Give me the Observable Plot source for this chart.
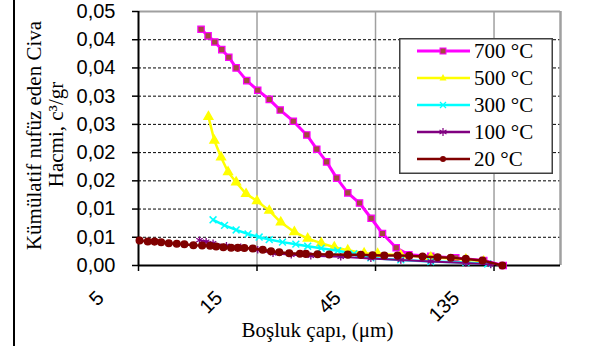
<!DOCTYPE html>
<html>
<head>
<meta charset="utf-8">
<script src="https://cdn.jsdelivr.net/npm/d3@7"></script>
<script src="https://cdn.jsdelivr.net/npm/@observablehq/plot@0.6"></script>
<style>
  html, body { margin: 0; padding: 0; background: #fff; }
  #wrap { position: relative; width: 590px; height: 351px; overflow: hidden; }
  #border { position: absolute; left: 13px; top: 0; width: 2px; height: 346px; background: #000; }
  #legend { position: absolute; left: 399px; top: 38px; }
</style>
</head>
<body>
<div id="wrap">
  <div id="chart"></div>
  <div id="border"></div>
  <div id="legend"></div>
</div>
<script>
// ---- data ----
const seriesNames = ["700 °C", "500 °C", "300 °C", "100 °C", "20 °C"];
const seriesColors = ["#ff00ff", "#ffff00", "#00ffff", "#800080", "#800000"];

const x700 = [8.93, 9.53, 10.14, 10.82, 11.55, 12.36, 13.64, 15.1, 16.8, 18.6, 21.0, 23.8, 26.1, 28.6, 31.4, 34.8, 38.8, 43.2, 48.0, 54.5, 61.3, 75.1, 94.7, 122.7, 147];
const y700 = [0.0465, 0.0452, 0.0440, 0.0425, 0.0410, 0.0389, 0.0364, 0.0345, 0.0327, 0.0306, 0.0284, 0.0257, 0.0229, 0.0204, 0.0172, 0.0143, 0.0123, 0.0093, 0.0063, 0.0035, 0.0021, 0.0018, 0.0015, 0.0010, 0.0000];

const x500 = [9.56, 10.1, 10.75, 11.47, 12.36, 13.55, 15.0, 16.8, 18.7, 21.2, 24.0, 27.2, 30.7, 34.8, 40.5, 45.9, 56.9, 75.1, 104, 122.7];
const y500 = [0.0293, 0.0246, 0.0213, 0.0184, 0.0164, 0.0141, 0.0127, 0.0108, 0.0085, 0.0066, 0.0053, 0.0044, 0.0036, 0.0030, 0.0024, 0.0023, 0.0020, 0.0016, 0.0012, 0.0008];

const x300 = [9.98, 11.1, 12.36, 13.8, 15.3, 16.8, 19.0, 21.5, 24.0, 27.2, 31.7, 36.8, 43.1, 56.9, 75.1, 104, 127.3];
const y300 = [0.0090, 0.0079, 0.0070, 0.0062, 0.0056, 0.0051, 0.0046, 0.0042, 0.0038, 0.0034, 0.0029, 0.0023, 0.0015, 0.0011, 0.0008, 0.0006, 0.0003];

const x100 = [8.8, 9.36, 9.98, 11.3, 12.9, 15.1, 17.4, 20.6, 24.7, 32.6, 43.1, 56.9, 75.1, 104, 131];
const y100 = [0.0050, 0.0047, 0.0044, 0.0039, 0.0036, 0.0031, 0.0024, 0.0021, 0.0019, 0.0017, 0.0014, 0.0011, 0.0008, 0.0005, 0.0002];

const x20 = [5.05, 5.45, 5.80, 6.17, 6.62, 7.13, 7.65, 8.32, 9.02, 9.71, 10.27, 10.98, 11.8, 12.55, 13.34, 14.42, 15.82, 17.08, 18.44, 20.23, 22.34, 23.6, 26.3, 29.3, 34.8, 39.3, 43.8, 48.8, 55.2, 61.5, 69.6, 80.0, 90.4, 103.9, 121.3, 145.9];
const y20 = [0.00492, 0.00472, 0.00470, 0.00459, 0.00439, 0.00427, 0.00419, 0.00400, 0.00394, 0.00388, 0.00374, 0.00360, 0.00350, 0.00347, 0.00344, 0.00335, 0.00309, 0.00281, 0.00262, 0.00242, 0.00232, 0.00228, 0.00222, 0.00218, 0.00214, 0.00210, 0.00203, 0.00197, 0.00195, 0.00190, 0.00177, 0.00163, 0.00152, 0.00130, 0.00098, 0.0000];

const xTicks = [5, 15, 45, 135];
const xTickLabels = ["5", "15", "45", "135"];
const yTickValues = [0, 0.005556, 0.011111, 0.016667, 0.022222, 0.027778, 0.033333, 0.038889, 0.044444, 0.05];
const yTickLabels = ["0,00", "0,01", "0,01", "0,02", "0,02", "0,03", "0,03", "0,04", "0,04", "0,05"];

const xTitle = "Boşluk çapı, (μm)";
const yTitle1 = "Kümülatif nufüz eden Civa";
const yTitle2 = "Hacmi, c³/gr";

// ---- build ----
const toRows = (xs, ys) => xs.map((x, i) => ({x, y: ys[i]}));
const d700 = toRows(x700, y700), d500 = toRows(x500, y500), d300 = toRows(x300, y300),
      d100 = toRows(x100, y100), d20 = toRows(x20, y20);

const serif = "'Liberation Serif', 'Times New Roman', serif";
const sans = "'Liberation Sans', Arial, sans-serif";

const chart = Plot.plot({
  width: 590,
  height: 351,
  marginLeft: 138,
  marginRight: 30,
  marginTop: 11,
  marginBottom: 86,
  style: {background: "transparent", fontFamily: sans, fontSize: "20px", color: "#000"},
  x: {type: "log", base: 3, domain: [5, 250]},
  y: {domain: [0, 0.05]},
  marks: [
    Plot.gridX(xTicks.slice(1), {stroke: "#a0a0a0", strokeOpacity: 1, strokeWidth: 1.5}),
    Plot.gridY(yTickValues.slice(1, -1), {stroke: "#000", strokeOpacity: 1, strokeWidth: 1, strokeDasharray: "3,2"}),
    Plot.ruleY([0.05], {stroke: "#a0a0a0", strokeWidth: 2}),
    Plot.ruleX([250], {stroke: "#a0a0a0", strokeWidth: 2.5}),
    Plot.ruleX([5], {stroke: "#000", strokeWidth: 2}),
    Plot.ruleY([0], {stroke: "#000", strokeWidth: 2}),
    Plot.axisY(yTickValues, {
      tickSize: 6, tickPadding: 17, strokeWidth: 1.5, label: null, fontSize: 20,
      tickFormat: d => yTickLabels[yTickValues.indexOf(d)]
    }),
    Plot.axisX(xTicks, {tickSize: 6, strokeWidth: 1.5, label: null, tickFormat: () => ""}),
    Plot.text(xTicks, {
      x: d => d, text: d => xTickLabels[xTicks.indexOf(d)],
      frameAnchor: "bottom", rotate: -45, textAnchor: "end", lineAnchor: "middle",
      dx: -38, dy: 29, fontSize: 20, fontFamily: sans, fill: "#000"
    }),
    // series 700
    Plot.line(d700, {x: "x", y: "y", stroke: seriesColors[0], strokeWidth: 3}),
    Plot.dot(d700, {x: "x", y: "y", symbol: "square", r: 3.6, fill: "#a24a3e", stroke: seriesColors[0], strokeWidth: 1.2}),
    // series 500
    Plot.line(d500, {x: "x", y: "y", stroke: seriesColors[1], strokeWidth: 2.5}),
    Plot.dot(d500, {x: "x", y: "y", symbol: "triangle", r: 3.2, fill: seriesColors[1], stroke: seriesColors[1]}),
    // series 300
    Plot.line(d300, {x: "x", y: "y", stroke: seriesColors[2], strokeWidth: 2.5}),
    Plot.dot(d300, {x: "x", y: "y", symbol: "times", r: 3.2, stroke: seriesColors[2], strokeWidth: 1.5}),
    // series 100
    Plot.line(d100, {x: "x", y: "y", stroke: seriesColors[3], strokeWidth: 2}),
    Plot.dot(d100, {x: "x", y: "y", symbol: "asterisk", r: 3.5, stroke: seriesColors[3], strokeWidth: 1.3}),
    // series 20
    Plot.line(d20, {x: "x", y: "y", stroke: seriesColors[4], strokeWidth: 2.5}),
    Plot.dot(d20, {x: "x", y: "y", symbol: "circle", r: 3.3, fill: seriesColors[4], stroke: seriesColors[4]}),
    // axis titles
    Plot.text([xTitle], {text: d => d, frameAnchor: "bottom", textAnchor: "middle", dx: -32, dy: 71, fontFamily: serif, fontSize: 21, fill: "#000"}),
    Plot.text([yTitle1], {text: d => d, frameAnchor: "left", textAnchor: "middle", rotate: -90, dx: -104, dy: -3, fontFamily: serif, fontSize: 21, fill: "#000"}),
    Plot.text([yTitle2], {text: d => d, frameAnchor: "left", textAnchor: "middle", rotate: -90, dx: -82, dy: -4, fontFamily: serif, fontSize: 21, fill: "#000"})
  ]
});
document.getElementById("chart").appendChild(chart);

// ---- legend ----
const ns = "http://www.w3.org/2000/svg";
const lg = document.createElementNS(ns, "svg");
lg.setAttribute("width", 155);
lg.setAttribute("height", 137);
const el = (tag, attrs, parent) => {
  const e = document.createElementNS(ns, tag);
  for (const k in attrs) e.setAttribute(k, attrs[k]);
  (parent || lg).appendChild(e);
  return e;
};
el("rect", {x: 0.75, y: 0.75, width: 152.5, height: 134.5, fill: "#fff", stroke: "#404040", "stroke-width": 1.5});
seriesNames.forEach((name, i) => {
  const cy = 13 + 27 * i;
  const c = seriesColors[i];
  el("line", {x1: 18, x2: 71, y1: cy, y2: cy, stroke: c, "stroke-width": i === 0 ? 3 : 2.5});
  const mx = 44;
  if (i === 0) el("rect", {x: mx - 3, y: cy - 3, width: 6, height: 6, fill: "#a24a3e", stroke: c, "stroke-width": 1});
  if (i === 1) el("path", {d: `M${mx},${cy - 4}L${mx + 3.5},${cy + 2.5}L${mx - 3.5},${cy + 2.5}Z`, fill: c});
  if (i === 2) el("path", {d: `M${mx - 3},${cy - 3}L${mx + 3},${cy + 3}M${mx - 3},${cy + 3}L${mx + 3},${cy - 3}`, stroke: c, "stroke-width": 1.3});
  if (i === 3) el("path", {d: `M${mx},${cy - 4}L${mx},${cy + 4}M${mx - 3.5},${cy - 2}L${mx + 3.5},${cy + 2}M${mx - 3.5},${cy + 2}L${mx + 3.5},${cy - 2}`, stroke: c, "stroke-width": 1.2});
  if (i === 4) el("circle", {cx: mx, cy: cy, r: 3, fill: c});
  const t = el("text", {x: 75, y: cy, "dominant-baseline": "central", "font-family": serif, "font-size": 21, fill: "#000"});
  t.textContent = name;
});
document.getElementById("legend").appendChild(lg);
</script>
</body>
</html>
